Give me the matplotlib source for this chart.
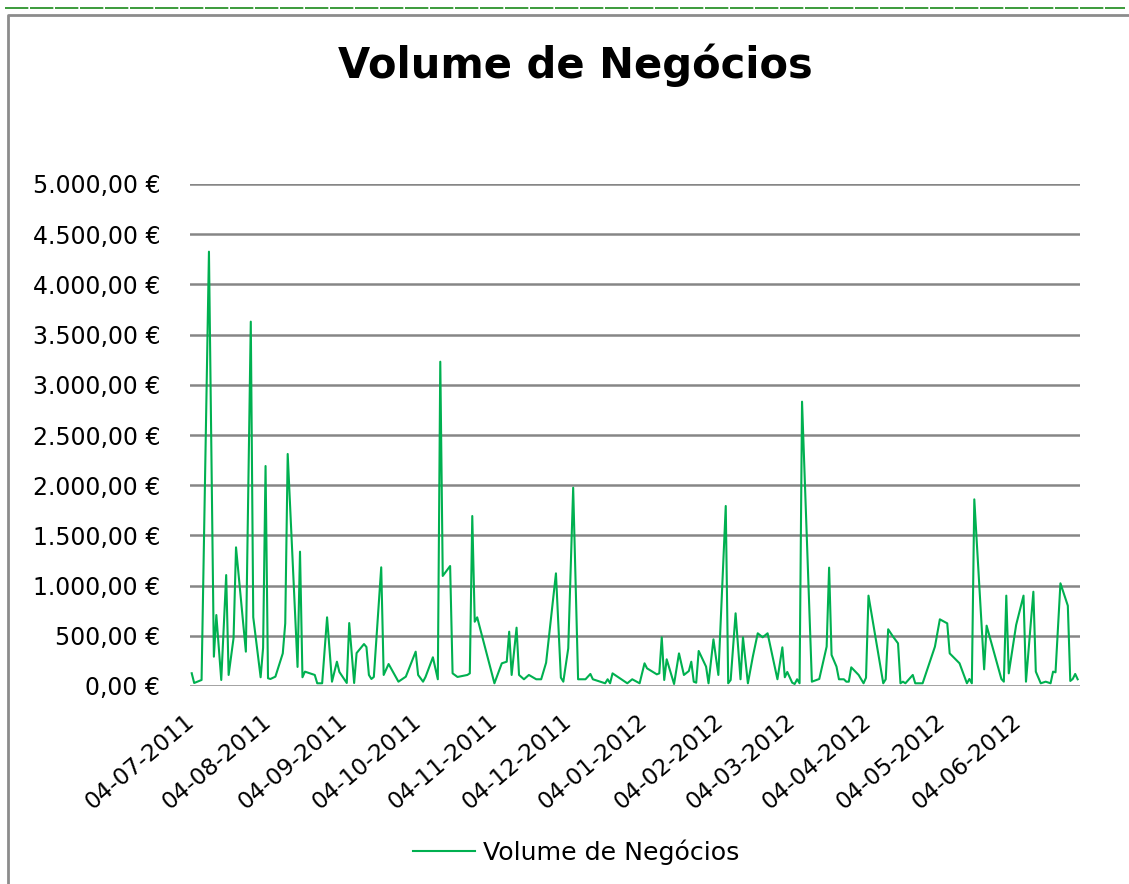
import matplotlib
matplotlib.use("Agg")
import matplotlib.pyplot as plt
from matplotlib.lines import Line2D
from matplotlib.ticker import FuncFormatter, MultipleLocator
import pandas as pd

plt.rcParams['font.family'] = ['DejaVu Sans']

title = "Volume de Negócios"
series_name = "Volume de Negócios"

dates = [
    "2011-07-01", "2011-07-02", "2011-07-05", "2011-07-08", "2011-07-10", "2011-07-11", "2011-07-13",
    "2011-07-15", "2011-07-16", "2011-07-18", "2011-07-19", "2011-07-23", "2011-07-25", "2011-07-26",
    "2011-07-29", "2011-07-30", "2011-07-31", "2011-08-01", "2011-08-02", "2011-08-04", "2011-08-07",
    "2011-08-08", "2011-08-09", "2011-08-13", "2011-08-14", "2011-08-15", "2011-08-16", "2011-08-20",
    "2011-08-21", "2011-08-23", "2011-08-25", "2011-08-27", "2011-08-29", "2011-08-30", "2011-09-02",
    "2011-09-03", "2011-09-05", "2011-09-06", "2011-09-09", "2011-09-10", "2011-09-11", "2011-09-12",
    "2011-09-13", "2011-09-16", "2011-09-17", "2011-09-19", "2011-09-23", "2011-09-26", "2011-09-30",
    "2011-10-01", "2011-10-03", "2011-10-04", "2011-10-07", "2011-10-09", "2011-10-10", "2011-10-11",
    "2011-10-14", "2011-10-15", "2011-10-17", "2011-10-21", "2011-10-22", "2011-10-23", "2011-10-24",
    "2011-10-25", "2011-11-01", "2011-11-04", "2011-11-06", "2011-11-07", "2011-11-08", "2011-11-10",
    "2011-11-11", "2011-11-13", "2011-11-15", "2011-11-18", "2011-11-20", "2011-11-22", "2011-11-26",
    "2011-11-28", "2011-11-29", "2011-12-01", "2011-12-03", "2011-12-05", "2011-12-08", "2011-12-10",
    "2011-12-11", "2011-12-16", "2011-12-17", "2011-12-18", "2011-12-19", "2011-12-24", "2011-12-25",
    "2011-12-27", "2011-12-30", "2012-01-01", "2012-01-02", "2012-01-06", "2012-01-07", "2012-01-08",
    "2012-01-09", "2012-01-10", "2012-01-13", "2012-01-15", "2012-01-17", "2012-01-19", "2012-01-20",
    "2012-01-21", "2012-01-22", "2012-01-23", "2012-01-26", "2012-01-27", "2012-01-29", "2012-01-31",
    "2012-02-03", "2012-02-04", "2012-02-05", "2012-02-07", "2012-02-09", "2012-02-10", "2012-02-12",
    "2012-02-14", "2012-02-16", "2012-02-18", "2012-02-20", "2012-02-24", "2012-02-26", "2012-02-27",
    "2012-02-28", "2012-03-01", "2012-03-02", "2012-03-03", "2012-03-04", "2012-03-05", "2012-03-09",
    "2012-03-12", "2012-03-15", "2012-03-16", "2012-03-17", "2012-03-19", "2012-03-20", "2012-03-22",
    "2012-03-23", "2012-03-24", "2012-03-25", "2012-03-28", "2012-03-30", "2012-03-31", "2012-04-01",
    "2012-04-07", "2012-04-08", "2012-04-09", "2012-04-11", "2012-04-13", "2012-04-14", "2012-04-15",
    "2012-04-16", "2012-04-19", "2012-04-20", "2012-04-23", "2012-04-28", "2012-04-30", "2012-05-03",
    "2012-05-04", "2012-05-08", "2012-05-11", "2012-05-12", "2012-05-13", "2012-05-14", "2012-05-18",
    "2012-05-19", "2012-05-25", "2012-05-26", "2012-05-27", "2012-05-28", "2012-05-31", "2012-06-03",
    "2012-06-04", "2012-06-07", "2012-06-08", "2012-06-10", "2012-06-12", "2012-06-14", "2012-06-15",
    "2012-06-16", "2012-06-18", "2012-06-21", "2012-06-22", "2012-06-23", "2012-06-24", "2012-06-25",
]

volumes = [
    127, 30, 60, 4326, 292, 707, 60,
    1105, 110, 478, 1381, 342, 3629, 685,
    87, 380, 2191, 77, 70, 93, 325,
    624, 2311, 190, 1338, 87, 143, 110,
    27, 27, 684, 43, 242, 140, 30,
    627, 30, 328, 418, 388, 110, 70,
    90, 1182, 110, 219, 43, 93, 342,
    110, 43, 90, 286, 67, 3230, 1096,
    1195, 126, 90, 110, 126, 1693, 640,
    684, 27, 226, 242, 541, 110, 581,
    110, 67, 110, 67, 67, 232, 1122,
    83, 43, 375, 1975, 67, 67, 120,
    67, 27, 67, 27, 126, 43, 27,
    67, 27, 226, 176, 116, 126, 485,
    60, 266, 20, 325, 110, 149, 242,
    43, 33, 349, 193, 27, 465, 110,
    1793, 27, 60, 724, 67, 485, 27,
    292, 525, 485, 525, 67, 385, 87,
    140, 33, 20, 67, 27, 2832, 43,
    70, 392, 1179, 309, 193, 67, 67,
    43, 43, 186, 110, 27, 83, 900,
    27, 67, 565, 491, 425, 27, 43,
    27, 110, 27, 27, 392, 664, 624,
    325, 226, 27, 70, 27, 1859, 166,
    601, 70, 43, 900, 126, 608, 900,
    43, 939, 143, 27, 43, 27, 143,
    136, 1023, 800, 50, 70, 120, 67,
]

tick_dates = ["2011-07-04", "2011-08-04", "2011-09-04", "2011-10-04", "2011-11-04", "2011-12-04",
              "2012-01-04", "2012-02-04", "2012-03-04", "2012-04-04", "2012-05-04", "2012-06-04"]

y_max = 5000
y_step = 500

x = pd.to_datetime(dates)
W, H = 1129, 884
fig = plt.figure(figsize=(W / 100, H / 100), dpi=100)
fig.patch.set_facecolor('white')

# decorative frame lines (chart border and selection line)
fig.add_artist(Line2D([5 / W, 1125 / W], [1 - 8 / H, 1 - 8 / H], color='#1a8a1a', lw=1.2,
                      linestyle=(0, (14, 1))))
fig.add_artist(Line2D([7.5 / W, 7.5 / W, 1.0], [0, 1 - 15 / H, 1 - 15 / H], color='#8c8c8c', lw=2))

ax = fig.add_axes([190 / W, 1 - 686 / H, (1080 - 190) / W, (686 - 184) / H])
ax.plot(x, volumes, color='#00B050', lw=1.5, label=series_name)

ax.set_ylim(0, y_max)
ax.yaxis.set_major_locator(MultipleLocator(y_step))

def eur(v, pos):
    s = f"{v:,.2f}".replace(",", "X").replace(".", ",").replace("X", ".")
    return s + " €"

ax.yaxis.set_major_formatter(FuncFormatter(eur))
ax.grid(axis='y', color='#868686', lw=1.8)
ax.set_axisbelow(True)
for s in ax.spines.values():
    s.set_visible(False)

x0 = pd.Timestamp(dates[0]) - pd.Timedelta(days=0.7)
x1 = pd.Timestamp(dates[-1]) + pd.Timedelta(days=0.95)
ax.set_xlim(x0, x1)
ticks = pd.to_datetime(tick_dates)
ax.set_xticks(ticks)
ax.set_xticklabels([t.strftime("%d-%m-%Y") for t in ticks], rotation=40, ha='right', va='bottom',
                   rotation_mode='anchor', fontsize=16.7)
ax.tick_params(axis='x', length=0, pad=30)
ax.tick_params(axis='y', length=0, pad=21.5, labelsize=17)

fig.text(575 / W, 1 - 65 / H, title, ha='center', va='center', fontsize=30, fontweight='bold')

fig.legend(handles=[Line2D([], [], color='#00B050', lw=1.5)], labels=[series_name],
           loc='center', bbox_to_anchor=(576 / W, 1 - 852 / H), frameon=False, fontsize=18.2,
           handlelength=2.45, handletextpad=0.32)

fig.savefig("out.png", dpi=100)
